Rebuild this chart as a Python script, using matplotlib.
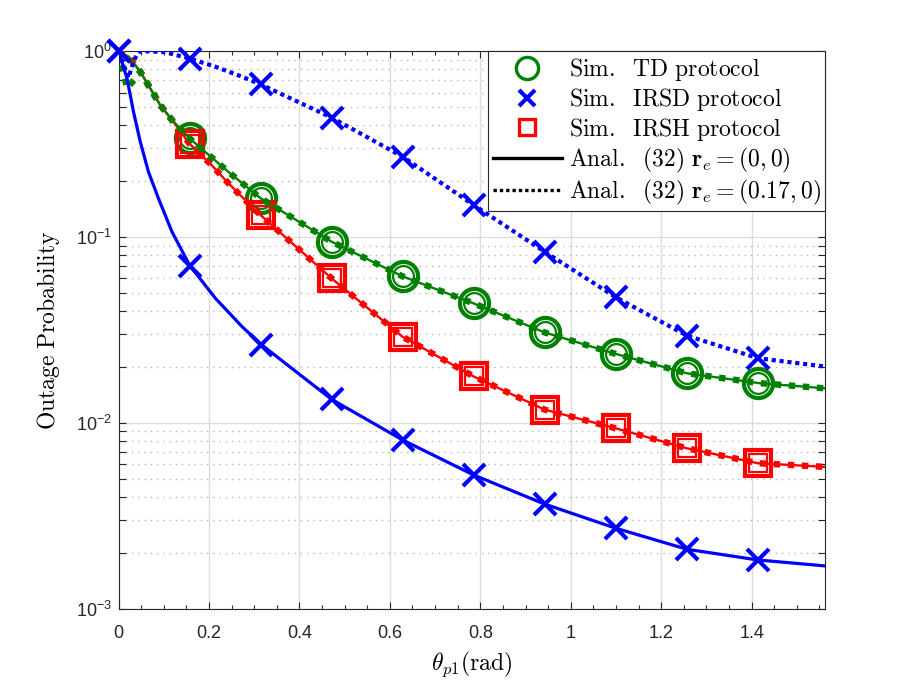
import numpy as np
import matplotlib
matplotlib.use('Agg')
import matplotlib.pyplot as plt
from matplotlib.lines import Line2D
from matplotlib.ticker import MultipleLocator, LogLocator, NullFormatter

plt.rcParams['font.family'] = ['Liberation Sans', 'DejaVu Sans']
plt.rcParams['mathtext.fontset'] = 'cm'

# simulation points (theta = k*pi/20)
x_sim = [0.0, 0.157, 0.314, 0.471, 0.628, 0.785, 0.942, 1.100, 1.257, 1.414]
td_sim = [0.342, 0.162, 0.0945, 0.0615, 0.044, 0.0307, 0.0235, 0.0185, 0.0164]      # k = 1..9
irsh_sim = [0.318, 0.1315, 0.060, 0.0291, 0.0178, 0.0118, 0.00935, 0.0073, 0.00607]  # k = 1..9
irsd_sim_0 = [1.0, 0.0702, 0.0263, 0.0134, 0.0081, 0.00525, 0.00366, 0.00271, 0.00209, 0.00183]
irsd_sim_17 = [1.0, 0.906, 0.664, 0.44, 0.271, 0.149, 0.0835, 0.0474, 0.0295, 0.0223]

# analytical curves
x_td = [0, 0.022, 0.048, 0.070, 0.092, 0.118, 0.157, 0.247, 0.314, 0.471, 0.628,
        0.785, 0.942, 1.100, 1.257, 1.414, 1.563]
td_anal_0 = [1.0, 0.935, 0.777, 0.632, 0.514, 0.427, 0.34, 0.22, 0.162, 0.0945, 0.0615,
             0.044, 0.0307, 0.0235, 0.0185, 0.0164, 0.01535]
x_td17 = [0, 0.019, 0.037, 0.048, 0.070, 0.092, 0.118, 0.157, 0.247, 0.314, 0.471, 0.628,
          0.785, 0.942, 1.100, 1.257, 1.414, 1.563]
td_anal_17 = [1.0, 0.632, 0.716, 0.777, 0.632, 0.514, 0.427, 0.34, 0.22, 0.162, 0.0945, 0.0615,
              0.044, 0.0307, 0.0235, 0.0185, 0.0164, 0.01535]

x_irsh = [0, 0.022, 0.048, 0.070, 0.092, 0.118, 0.157, 0.206, 0.236, 0.265, 0.314, 0.471,
          0.628, 0.785, 0.942, 1.100, 1.257, 1.414, 1.563]
irsh_anal = [1.0, 0.935, 0.777, 0.632, 0.514, 0.427, 0.318, 0.244, 0.203, 0.172, 0.1315, 0.060,
             0.0291, 0.0178, 0.0118, 0.00935, 0.0073, 0.00607, 0.0058]

x_irsd0 = [0, 0.0186, 0.033, 0.048, 0.066, 0.088, 0.118, 0.157, 0.214, 0.273, 0.314, 0.471,
           0.628, 0.785, 0.942, 1.100, 1.257, 1.414, 1.563]
irsd_anal_0 = [1.0, 0.716, 0.473, 0.326, 0.225, 0.162, 0.107, 0.0706, 0.0469, 0.0330, 0.0266, 0.0134,
               0.0081, 0.00525, 0.00366, 0.00271, 0.00209, 0.00183, 0.0017]
x_irsd17 = [0, 0.022, 0.033, 0.044, 0.066, 0.102, 0.157, 0.214, 0.273, 0.314, 0.471, 0.628,
            0.785, 0.942, 1.100, 1.257, 1.414, 1.563]
irsd_anal_17 = [1.0, 0.72, 0.88, 0.995, 1.0, 0.99, 0.915, 0.826, 0.73, 0.664, 0.44, 0.271,
                0.149, 0.0835, 0.0474, 0.0295, 0.0223, 0.0201]

x_ticks = [0, 0.2, 0.4, 0.6, 0.8, 1.0, 1.2, 1.4]
x_tick_labels = ['0', '0.2', '0.4', '0.6', '0.8', '1', '1.2', '1.4']

green = '#008000'
blue = '#0000ff'
red = '#ff0000'

fig = plt.figure(figsize=(9.12, 6.84), dpi=100)
ax = fig.add_axes([0.13, 0.11, 0.775, 0.815])
ax.set_yscale('log')

# sim markers (two concentric sets for the two eavesdropper positions)
ax.plot(x_sim[1:], td_sim, ls='none', marker='o', ms=21, mew=3, mfc='none', mec=green, zorder=3, clip_on=False)
ax.plot(x_sim[1:], td_sim, ls='none', marker='o', ms=15, mew=1.6, mfc='none', mec=green, zorder=3, clip_on=False)
ax.plot(x_sim[1:], irsh_sim, ls='none', marker='s', ms=18.5, mew=3, mfc='none', mec=red, zorder=3, clip_on=False)
ax.plot(x_sim[1:], irsh_sim, ls='none', marker='s', ms=13, mew=1.6, mfc='none', mec=red, zorder=3, clip_on=False)
ax.plot(x_sim, irsd_sim_0, ls='none', marker='x', ms=16.5, mew=3, mec=blue, zorder=5, clip_on=False)
ax.plot(x_sim, irsd_sim_17, ls='none', marker='x', ms=16.5, mew=3, mec=blue, zorder=5, clip_on=False)

# analytical curves
ax.plot(x_irsh, irsh_anal, color=red, lw=1.7, zorder=4)
ax.plot(x_irsh, irsh_anal, color=red, lw=4.6, ls=(0, (1, 1.2)), zorder=4)
ax.plot(x_td, td_anal_0, color=green, lw=1.7, zorder=4)
ax.plot(x_td17, td_anal_17, color=green, lw=4.6, ls=(0, (1, 1.2)), zorder=4)
ax.plot(x_irsd0, irsd_anal_0, color=blue, lw=2.3, zorder=4)
ax.plot(x_irsd17, irsd_anal_17, color=blue, lw=3.0, ls=(0, (1, 0.9)), zorder=4)

ax.set_xlim(0, 1.563)
ax.set_ylim(1e-3, 1)
ax.set_xticks(x_ticks)
ax.set_xticklabels(x_tick_labels)
ax.xaxis.set_minor_locator(MultipleLocator(0.05))
ax.yaxis.set_minor_locator(LogLocator(base=10, subs=np.arange(2, 10)))
ax.yaxis.set_minor_formatter(NullFormatter())

ax.grid(True, which='major', color='#dcdcdc', lw=1.0, ls='-', zorder=0)
ax.grid(True, which='minor', axis='y', color='#b8b8b8', lw=1.0, ls=(0, (1, 3.5)), zorder=0)
ax.set_axisbelow(True)

for s in ax.spines.values():
    s.set_color('#262626')
    s.set_linewidth(0.8)
ax.tick_params(which='both', direction='in', top=True, right=True, colors='#262626', labelsize=13)
ax.tick_params(which='major', length=5, width=0.8)
ax.tick_params(axis='x', which='major', pad=12)
ax.tick_params(axis='y', which='major', pad=5)
ax.tick_params(axis='x', which='minor', length=3, width=0.8)
ax.tick_params(axis='y', which='minor', length=5, width=0.8)

ax.set_xlabel(r'$\theta_{p1}(\mathrm{rad})$', fontsize=17, labelpad=5)
ax.set_ylabel(r'$\mathrm{Outage\ Probability}$', fontsize=17, labelpad=10)

handles = [
    Line2D([], [], ls='none', marker='o', ms=16, mew=2.4, mfc='none', mec=green),
    Line2D([], [], ls='none', marker='x', ms=12, mew=3, mec=blue),
    Line2D([], [], ls='none', marker='s', ms=12, mew=2.4, mfc='none', mec=red),
    Line2D([], [], color='black', lw=2.4),
    Line2D([], [], color='black', lw=2.4, ls=(0, (1, 0.9))),
]
labels = [
    r'$\mathrm{Sim.\ \ TD\ protocol}$',
    r'$\mathrm{Sim.\ \ IRSD\ protocol}$',
    r'$\mathrm{Sim.\ \ IRSH\ protocol}$',
    r'$\mathrm{Anal.\ \ (32)}\ \mathbf{r}_e=(0,0)$',
    r'$\mathrm{Anal.\ \ (32)}\ \mathbf{r}_e=(0.17,0)$',
]
leg = ax.legend(handles, labels, loc='upper right', borderaxespad=0, fontsize=17,
                handlelength=2.9, handletextpad=0.3, labelspacing=0.12, borderpad=0.2,
                fancybox=False, framealpha=1, edgecolor='#262626')
leg.get_frame().set_linewidth(0.8)
leg.set_zorder(10)

fig.savefig('out.png', dpi=100)
